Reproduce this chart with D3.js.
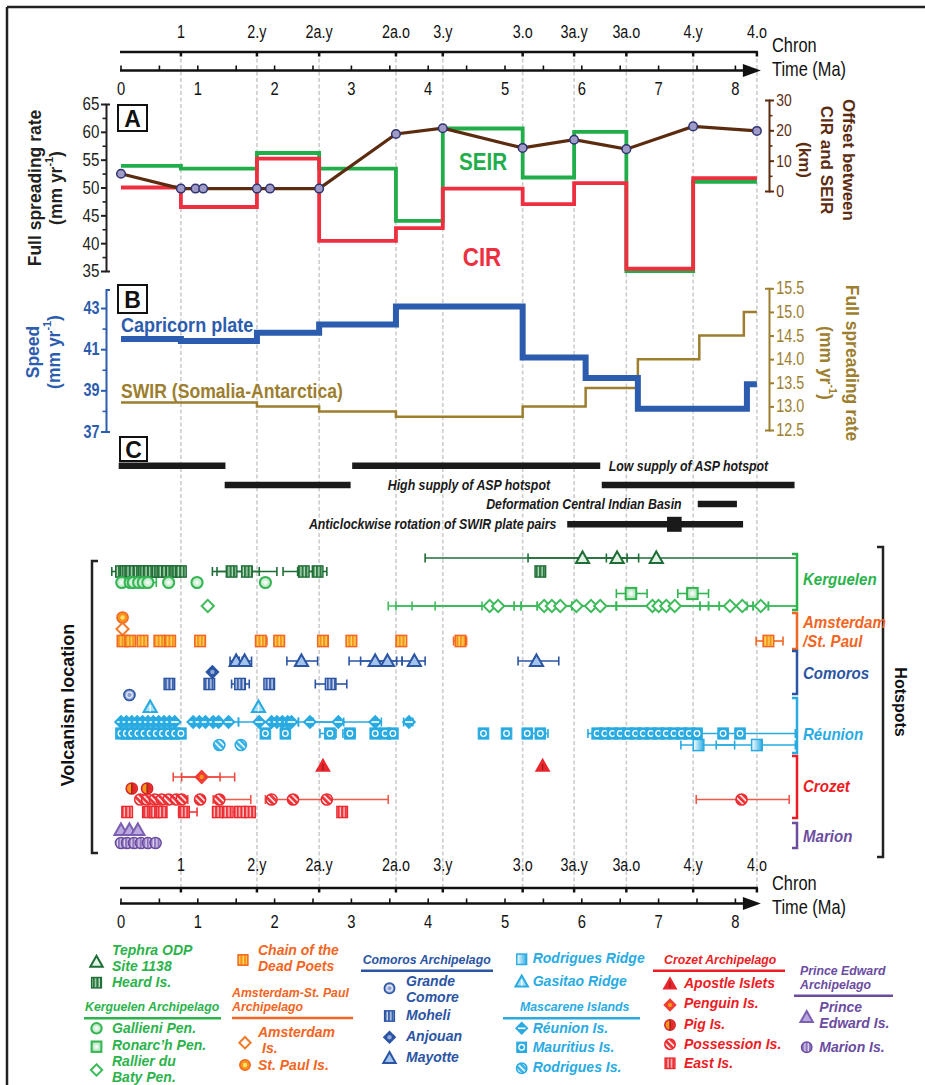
<!DOCTYPE html>
<html><head><meta charset="utf-8">
<script src="https://cdnjs.cloudflare.com/ajax/libs/d3/7.8.5/d3.min.js"></script>
<style>
html,body{margin:0;padding:0;background:#fff;}
svg{display:block;}
text{font-family:"Liberation Sans",Arial,Helvetica,sans-serif;}
</style></head><body>
<svg id="chart" width="925" height="1085"></svg>
<script>
// ================= DATA =================
const N = null;
const chronLabels = ["1","2.y","2a.y","2a.o","3.y","3.o","3a.y","3a.o","4.y","4.o"];
const chronAges   = [0.78,1.77,2.58,3.58,4.19,5.23,5.90,6.58,7.45,8.28];
const timeTicks   = [0,1,2,3,4,5,6,7,8];

// Panel A
const rateBounds = [0,0.78,1.77,2.58,3.58,4.19,5.23,5.90,6.58,7.45,8.28];
const seirRate   = [53.9,53.4,56.2,53.4,44.0,60.6,51.8,60.0,35.0,51.0];
const cirRate    = [50.0,46.5,55.2,40.4,42.7,49.8,47.0,50.8,35.4,51.7];
const offsetAge  = [0,0.78,0.97,1.07,1.77,1.94,2.58,3.58,4.19,5.23,5.90,6.58,7.45,8.28];
const offsetKm   = [5.7,0.8,0.8,0.8,0.8,0.8,0.8,18.8,20.7,14.2,16.9,13.8,21.3,19.8];
const rateTicks  = [35,40,45,50,55,60,65];
const offsetTicks= [0,10,20,30];

// Panel B
const capBounds  = [0,0.78,1.77,2.58,3.58,5.23,6.05,6.73,8.15,8.28];
const capSpeed   = [41.5,41.4,41.8,42.2,43.08,40.6,39.6,38.1,39.3];
const swirBounds = [0,1.77,2.58,3.58,5.23,6.05,6.73,7.53,8.11,8.28];
const swirRate   = [13.08,13.0,12.89,12.78,13.0,13.39,14.0,14.5,15.0];
const speedTicks = [37,39,41,43];
const swirTicks  = [12.5,13.0,13.5,14.0,14.5,15.0,15.5];

// Panel C
const eventStart = [-0.03,3.01,1.35,6.26,7.51,5.81];
const eventEnd   = [1.36,6.24,2.99,8.77,8.02,8.10];
const eventRow   = [0,0,1,1,2,3];
const eventTexts = ["Low supply of ASP hotspot","High supply of ASP hotspot","Deformation Central Indian Basin","Anticlockwise rotation of SWIR plate pairs"];
const eventTextAt = [6.35,4.53,7.30,5.67];
const rotationPeak = [7.11,7.30];

// Hotspot ages (Ma) and error ranges
const tephraAge=[6.01,6.46,6.97];
const tephraErr=[[3.96,8.80],[5.30,6.59],[6.32,6.74]];
const heardAge=[0.00,0.06,0.12,0.18,0.24,0.30,0.36,0.42,0.48,0.54,0.60,0.66,0.72,0.78,1.44,1.64,2.38,2.56,5.46];
const heardErr=[[-0.12,0.10],N,N,N,N,N,N,N,N,N,N,N,N,N,[1.19,2.03],[1.25,1.80],[2.11,2.60],[2.30,2.68],N];
const gallieniAge=[0.01,0.12,0.16,0.23,0.29,0.35,0.62,0.99,1.88];
const gallieniErr=[N,N,N,N,N,[0.30,0.46],N,N,N];
const ronarchAge=[6.64,7.44];
const ronarchErr=[[6.45,6.85],[7.25,7.65]];
const rallierAge=[1.13,4.80,4.91,5.51,5.61,5.72,5.93,6.12,6.24,6.92,7.00,7.10,7.21,7.93,8.09,8.33];
const rallierErr=[N,[3.48,5.12],[3.58,5.21],[3.79,5.87],[4.09,6.45],[4.70,7.09],[5.42,7.54],[5.12,7.65],[5.21,7.79],[6.45,8.15],[5.87,8.23],[6.45,8.43],[5.42,8.80],[7.54,8.23],[7.65,8.43],[7.79,8.80]];
const stPaulAge=[0.02];
const amsterdamAge=[0.02];
const chainAge=[0.02,0.12,0.28,0.50,0.64,1.03,1.82,2.06,2.63,3.00,3.65,4.42,8.43];
const chainErr=[N,N,N,N,N,N,[1.77,1.90],N,N,N,N,[4.33,4.50],[8.27,8.62]];
const mayotteAge=[1.50,1.61,2.35,3.31,3.47,3.82,5.41];
const mayotteErr=[[1.42,1.58],[1.54,1.70],[2.16,2.56],[2.97,3.59],[3.12,3.66],[3.66,3.96],[5.17,5.70]];
const anjouanAge=[1.19];
const moheliAge=[0.63,1.15,1.55,1.93,2.73];
const moheliErr=[N,N,[1.44,1.67],N,[2.53,2.94]];
const grandeAge=[0.11];
const gasitaoAge=[0.38,1.79];
const reunionAge=[0.00,0.07,0.14,0.21,0.28,0.35,0.42,0.49,0.56,0.63,0.70,0.94,1.02,1.10,1.20,1.27,1.40,1.80,1.96,2.03,2.10,2.17,2.22,2.46,2.83,3.31,3.75];
const reunionErr=[N,N,N,N,N,N,N,N,N,N,N,N,N,N,N,N,[1.30,1.53],[1.53,1.96],N,N,N,N,[2.10,2.31],[2.31,2.90],[2.50,3.39],N,[3.68,3.80]];
const mauritiusAge=[0.00,0.07,0.14,0.22,0.30,0.38,0.46,0.54,0.62,0.70,0.78,1.88,2.14,2.72,2.98,3.31,3.44,3.54,4.72,5.02,5.29,5.46,6.20,6.30,6.40,6.50,6.60,6.70,6.80,6.90,7.00,7.10,7.20,7.30,7.40,7.50,7.84,8.06];
const mauritiusErr=[N,N,N,N,N,N,N,N,N,N,N,N,N,[2.59,2.80],[2.89,3.05],N,N,N,N,N,N,[5.30,5.56],[6.08,6.30],N,N,N,N,N,N,N,N,N,N,N,N,N,N,[7.50,8.78]];
const rodRidgeAge=[7.52,8.28];
const rodRidgeErr=[[7.29,7.99],[7.75,8.78]];
const rodriguesAge=[1.28,1.56];
const apostleAge=[2.63,5.49];
const penguinAge=[1.05,1.05];
const penguinErr=[[0.68,1.48],[0.79,1.29]];
const pigAge=[0.14,0.34];
const possessionAge=[0.25,0.34,0.44,0.53,0.62,0.72,0.79,1.03,1.28,1.96,2.24,2.68,8.08];
const possessionErr=[N,N,N,N,N,N,[0.70,0.87],N,[1.20,1.69],N,N,[1.88,3.48],[7.49,8.70]];
const eastAge=[0.08,0.35,0.44,0.53,0.82,1.26,1.39,1.55,1.68,2.88];
const eastErr=[N,N,N,N,[0.75,0.99],N,[1.30,1.48],N,N,N];
const princeEdwardAge=[0.00,0.11,0.22];
const marionAge=[0.00,0.08,0.17,0.26,0.35,0.45];

const groupNames=[["Kerguelen"],["Amsterdam","/St. Paul"],["Comoros"],["Réunion"],["Crozet"],["Marion"]];

// ================= SETUP =================
const svg = d3.select("#chart");
const defs = svg.append("defs");
const x = d3.scaleLinear().domain([0,8]).range([121,735.4]);
const SX = 0.82;

function ntext(parent,tx,ty,str,size,o={}){
  const sx = (o.sx===undefined)?SX:o.sx;
  return parent.append("text").attr("transform",`translate(${tx},${ty}) scale(${sx},1)`)
    .attr("text-anchor",o.anchor||"start").attr("dominant-baseline",o.base||"auto")
    .style("font-size",size+"px").style("font-weight",o.weight||"normal").style("font-style",o.style||"normal")
    .attr("fill",o.fill||"#111").text(str);
}

const C = {green:"#2bb34b", dgreen:"#1f6d36", lgreen:"#3dbb5b", orange:"#f26522", blue:"#2b55a3",
  lblue:"#29abe2", red:"#ed1c24", purple:"#6b4c9f", seir:"#22ad4b", cir:"#ee2f3f", brown:"#5b2c10",
  cap:"#2c5cad", swir:"#9c7e2e", grid:"#cdcdcd"};

function vStripe(id,base,light){
  const p=defs.append("pattern").attr("id",id).attr("patternUnits","userSpaceOnUse").attr("width",3.6).attr("height",12);
  p.append("rect").attr("width",3.6).attr("height",12).attr("fill",base);
  p.append("rect").attr("x",1.4).attr("width",1.2).attr("height",12).attr("fill",light);
}
vStripe("vs-heard","#2a7a3e","#cfe9d3");
vStripe("vs-chain","#f7941d","#fde36a");
vStripe("vs-moheli","#3b62ad","#e2e8f6");
vStripe("vs-east","#ee3438","#fde1e1");
vStripe("vs-marion","#8c72bd","#ece6f6");
function hatch(id,base,light){
  const p=defs.append("pattern").attr("id",id).attr("patternUnits","userSpaceOnUse").attr("width",4.4).attr("height",4.4).attr("patternTransform","rotate(-45)");
  p.append("rect").attr("width",4.4).attr("height",4.4).attr("fill",base);
  p.append("rect").attr("width",1.7).attr("height",4.4).attr("fill",light);
}
hatch("h-pos","#ee3438","#fde6e6");
hatch("h-rod","#3cb4e6","#e6f6fd");
const rg=defs.append("radialGradient").attr("id","rg-green");
rg.append("stop").attr("offset","0%").attr("stop-color","#ffffff");
rg.append("stop").attr("offset","100%").attr("stop-color","#a9dfb4");
const lg=defs.append("linearGradient").attr("id","lg-ridge");
lg.append("stop").attr("offset","0%").attr("stop-color","#ffffff");
lg.append("stop").attr("offset","100%").attr("stop-color","#29abe2");

const M = {
 tephra:{shape:"tri",fill:"#e2f2e4",stroke:C.dgreen,sw:2},
 heard:{shape:"sq",fill:"url(#vs-heard)",stroke:C.dgreen,sw:1.4},
 gallieni:{shape:"circ",fill:"url(#rg-green)",stroke:"#33b552",sw:2},
 ronarch:{shape:"sq",fill:"url(#rg-green)",stroke:"#33b552",sw:2},
 rallier:{shape:"dia",fill:"#fff",stroke:C.lgreen,sw:2},
 stpaul:{shape:"circ",fill:"#f7941d",stroke:C.orange,sw:1.5,dot:"#fde36a"},
 amsterdam:{shape:"dia",fill:"#fff",stroke:"#f47a2a",sw:2},
 chain:{shape:"sq",fill:"url(#vs-chain)",stroke:C.orange,sw:1.5},
 grande:{shape:"circ",fill:"#8d9fd3",stroke:C.blue,sw:1.5,ring:"#e4e9f7"},
 moheli:{shape:"sq",fill:"url(#vs-moheli)",stroke:C.blue,sw:1.4},
 anjouan:{shape:"dia",fill:C.blue,stroke:C.blue,sw:1.5,dot:"#8ea6d9"},
 mayotte:{shape:"tri",fill:"#a3c4ec",stroke:C.blue,sw:2},
 rodRidge:{shape:"sq",fill:"url(#lg-ridge)",stroke:C.lblue,sw:1.5},
 gasitao:{shape:"tri",fill:"#a8def6",stroke:C.lblue,sw:2,vline:"#ffffff"},
 reunion:{shape:"dia",fill:C.lblue,stroke:C.lblue,sw:1.5,band:"#ffffff"},
 mauritius:{shape:"sq",fill:C.lblue,stroke:C.lblue,sw:1,ring:"#ffffff"},
 rodrigues:{shape:"circ",fill:"url(#h-rod)",stroke:C.lblue,sw:1.5},
 apostle:{shape:"tri",fill:"#e8262d",stroke:"#e8262d",sw:1.5,vline:"#9e1a1f"},
 penguin:{shape:"dia",fill:"#ef3e36",stroke:"#ef3e36",sw:1.5,dot:"#f7941d"},
 pig:{shape:"half",fill:"#f7941d",fill2:"#e8262d",stroke:"#d2232a",sw:1.5},
 possession:{shape:"circ",fill:"url(#h-pos)",stroke:"#ed2a30",sw:1.5},
 east:{shape:"sq",fill:"url(#vs-east)",stroke:"#ed2a30",sw:1.4},
 princeEdward:{shape:"tri",fill:"#b9a9de",stroke:"#7b5fb0",sw:2},
 marion:{shape:"circ",fill:"url(#vs-marion)",stroke:"#6b4c9f",sw:1.5}
};

function marker(g,key,cx,cy,s=5.6){
  const st=M[key]; let el;
  if(st.shape==="tri") el=g.append("path").attr("d",`M${cx},${cy-s-1}L${cx+s+1},${cy+s-0.5}L${cx-s-1},${cy+s-0.5}Z`);
  else if(st.shape==="dia") el=g.append("path").attr("d",`M${cx},${cy-s-0.5}L${cx+s+0.5},${cy}L${cx},${cy+s+0.5}L${cx-s-0.5},${cy}Z`);
  else if(st.shape==="sq") el=g.append("rect").attr("x",cx-s+0.3).attr("y",cy-s).attr("width",2*s-0.6).attr("height",2*s);
  else el=g.append("circle").attr("cx",cx).attr("cy",cy).attr("r",s);
  el.attr("fill",st.fill).attr("stroke",st.stroke).attr("stroke-width",st.sw);
  if(st.shape==="half"){
    g.append("path").attr("d",`M${cx},${cy-s+0.7}A${s-0.7},${s-0.7} 0 0 1 ${cx},${cy+s-0.7}Z`).attr("fill",st.fill2);
    g.append("line").attr("x1",cx).attr("x2",cx).attr("y1",cy-s).attr("y2",cy+s).attr("stroke","#8c1d1d").attr("stroke-width",1.2);
  }
  if(st.dot) g.append("circle").attr("cx",cx).attr("cy",cy).attr("r",2.2).attr("fill",st.dot);
  if(st.ring) g.append("circle").attr("cx",cx).attr("cy",cy).attr("r",2.8).attr("fill","none").attr("stroke",st.ring).attr("stroke-width",1.3);
  if(st.band) g.append("line").attr("x1",cx-3.8).attr("x2",cx+3.8).attr("y1",cy).attr("y2",cy).attr("stroke",st.band).attr("stroke-width",1.6);
  if(st.vline) g.append("line").attr("x1",cx).attr("x2",cx).attr("y1",cy-2).attr("y2",cy+s-1.2).attr("stroke",st.vline).attr("stroke-width",1.3);
}

// ================= FRAME & GRID =================
svg.append("line").attr("x1",7).attr("x2",925).attr("y1",7).attr("y2",7).attr("stroke","#222").attr("stroke-width",2.5);
svg.append("line").attr("x1",7).attr("x2",7).attr("y1",7).attr("y2",1085).attr("stroke","#222").attr("stroke-width",2.5);
svg.append("g").selectAll("line").data(chronAges).join("line")
  .attr("x1",d=>x(d)).attr("x2",d=>x(d)).attr("y1",52).attr("y2",888)
  .attr("stroke",C.grid).attr("stroke-width",1.6).attr("stroke-dasharray","4,2.5");

// ================= TIME AXES =================
function timeAxes(yLab,yChron,yTime,yTLab,yChronTxt,yTimeTxt){
  const g=svg.append("g");
  const xEnd=x(chronAges[chronAges.length-1]);
  g.append("line").attr("x1",x(0)-1).attr("x2",xEnd+1).attr("y1",yChron).attr("y2",yChron).attr("stroke","#111").attr("stroke-width",2.5);
  g.selectAll(".ct").data(chronAges).join("line").attr("x1",d=>x(d)).attr("x2",d=>x(d)).attr("y1",yChron).attr("y2",yChron+4.5).attr("stroke","#111").attr("stroke-width",2.5);
  chronLabels.forEach((d,i)=>ntext(g,x(chronAges[i]),yLab,d,17.5,{anchor:"middle"}));
  g.append("line").attr("x1",x(0)-1).attr("x2",xEnd-10).attr("y1",yTime).attr("y2",yTime).attr("stroke","#111").attr("stroke-width",2.5);
  g.append("path").attr("d",`M${xEnd-14},${yTime-6.5}L${xEnd+4},${yTime}L${xEnd-14},${yTime+6.5}Z`).attr("fill","#111");
  g.selectAll(".tt").data(d3.range(0,8.01,0.5)).join("line").attr("x1",d=>x(d)).attr("x2",d=>x(d)).attr("y1",yTime-5).attr("y2",yTime).attr("stroke","#111").attr("stroke-width",1.6);
  timeTicks.forEach(d=>ntext(g,x(d),yTLab,String(d),18,{anchor:"middle"}));
  ntext(g,772,yChronTxt,"Chron",20);
  ntext(g,772,yTimeTxt,"Time (Ma)",20);
}
timeAxes(38,52,70.5,95,52,76);
timeAxes(871,888,903.5,928,889.5,913.5);

// ================= helpers =================
function styleAxis(g,color,size,weight){
  g.select(".domain").attr("stroke",color).attr("stroke-width",2);
  g.selectAll(".tick line").attr("stroke",color).attr("stroke-width",2);
  g.selectAll(".tick text").attr("fill",color).attr("transform",`scale(${SX},1)`)
    .style("font-size",size+"px").style("font-weight",weight).style("font-family","'Liberation Sans',Arial,sans-serif");
}
function minor(g,axisFn,vals,color){
  const m=g.append("g").call(axisFn.tickValues(vals).tickSize(3.5).tickFormat(""));
  m.select(".domain").remove();
  m.selectAll(".tick line").attr("stroke",color).attr("stroke-width",1.6);
}
function rotTitle(cx,cy,angle,lines,color,size,lh){
  const t=svg.append("text").attr("transform",`translate(${cx},${cy}) rotate(${angle})`)
    .attr("text-anchor","middle").attr("dominant-baseline","central").attr("fill",color)
    .style("font-size",size+"px").style("font-weight","bold");
  lines.forEach((ln,i)=>{
    const segs = typeof ln==="string"?[{t:ln}]:ln;
    segs.forEach((s,j)=>{
      const sp=t.append("tspan").text(s.t);
      if(j===0) sp.attr("x",0).attr("y",i*lh);
      if(s.sup) sp.attr("dy",-size*0.38).style("font-size",(size*0.62)+"px");
      if(j>0 && segs[j-1].sup) sp.attr("dy",size*0.38);
    });
  });
}
function panelBox(x0,y0,w,h,letter){
  svg.append("rect").attr("x",x0).attr("y",y0).attr("width",w).attr("height",h).attr("fill","#fff").attr("stroke","#111").attr("stroke-width",2);
  svg.append("text").attr("x",x0+w/2).attr("y",y0+h/2+1).attr("text-anchor","middle").attr("dominant-baseline","central")
    .style("font-size","23px").style("font-weight","bold").attr("fill","#111").text(letter);
}
const stepPts=(bounds,vals)=>bounds.map((b,i)=>[b,vals[Math.min(i,vals.length-1)]]);
const mmyr=[{t:"(mm yr"},{t:"-1",sup:true},{t:")"}];

// ================= PANEL A =================
const yA=d3.scaleLinear().domain([35,65]).range([271,104]);
const yOff=d3.scaleLinear().domain([0,30]).range([191,100]);
const gAL=svg.append("g").attr("transform","translate(106,0)");
gAL.call(d3.axisLeft(yA).tickValues(rateTicks).tickSize(5).tickSizeOuter(-4).tickPadding(3).tickFormat(d3.format("d")));
styleAxis(gAL,"#231f20",18.5,"normal");
minor(gAL,d3.axisLeft(yA),[37.5,42.5,47.5,52.5,57.5,62.5],"#231f20");
const gAR=svg.append("g").attr("transform","translate(769,0)");
gAR.call(d3.axisRight(yOff).tickValues(offsetTicks).tickSize(5).tickSizeOuter(-4).tickPadding(4).tickFormat(d3.format("d")));
styleAxis(gAR,C.brown,17,"normal");
minor(gAR,d3.axisRight(yOff),[5,15,25],C.brown);

const stepA=d3.line().x(d=>x(d[0])).y(d=>yA(d[1])).curve(d3.curveStepAfter);
svg.append("path").attr("d",stepA(stepPts(rateBounds,seirRate))).attr("fill","none").attr("stroke",C.seir).attr("stroke-width",3.8);
svg.append("path").attr("d",stepA(stepPts(rateBounds,cirRate))).attr("fill","none").attr("stroke",C.cir).attr("stroke-width",3.8);
const offPts=offsetAge.map((a,i)=>[a,offsetKm[i]]);
svg.append("path").attr("d",d3.line().x(d=>x(d[0])).y(d=>yOff(d[1]))(offPts)).attr("fill","none").attr("stroke",C.brown).attr("stroke-width",3.2);
svg.append("g").selectAll("circle").data(offPts).join("circle").attr("cx",d=>x(d[0])).attr("cy",d=>yOff(d[1])).attr("r",4.3)
  .attr("fill","#a09bc6").attr("stroke","#2f3470").attr("stroke-width",1.5);
ntext(svg,483,162,"SEIR",24,{anchor:"middle",base:"central",weight:"bold",fill:C.seir,sx:0.86});
ntext(svg,482,257,"CIR",26,{anchor:"middle",base:"central",weight:"bold",fill:C.cir,sx:0.86});
panelBox(118,105,29,26,"A");
rotTitle(35,188,-90,["Full spreading rate",mmyr],"#231f20",17.5,20.6);
rotTitle(849,160,90,["Offset between","CIR and SEIR","(km)"],C.brown,17,22);

// ================= PANEL B =================
const yS=d3.scaleLinear().domain([37,43.9]).range([431.5,289.5]);
const yW=d3.scaleLinear().domain([12.5,15.5]).range([430,288.3]);
const gBL=svg.append("g").attr("transform","translate(106,0)");
gBL.call(d3.axisLeft(yS).tickValues(speedTicks).tickSize(5).tickSizeOuter(-4).tickPadding(3).tickFormat(d3.format("d")));
styleAxis(gBL,C.cap,17.5,"bold");
minor(gBL,d3.axisLeft(yS),[38,40,42],C.cap);
const gBR=svg.append("g").attr("transform","translate(769,0)");
gBR.call(d3.axisRight(yW).tickValues(swirTicks).tickSize(5).tickSizeOuter(-4).tickPadding(4).tickFormat(d3.format(".1f")));
styleAxis(gBR,C.swir,17.5,"normal");
svg.append("path").attr("d",d3.line().x(d=>x(d[0])).y(d=>yW(d[1])).curve(d3.curveStepAfter)(stepPts(swirBounds,swirRate)))
  .attr("fill","none").attr("stroke",C.swir).attr("stroke-width",2.5);
svg.append("path").attr("d",d3.line().x(d=>x(d[0])).y(d=>yS(d[1])).curve(d3.curveStepAfter)(stepPts(capBounds,capSpeed)))
  .attr("fill","none").attr("stroke",C.cap).attr("stroke-width",6);
ntext(svg,121,332,"Capricorn plate",20.5,{weight:"bold",fill:C.cap,sx:0.88});
ntext(svg,121,398,"SWIR (Somalia-Antarctica)",20,{weight:"bold",fill:C.swir,sx:0.88});
panelBox(118,285,29,28,"B");
rotTitle(33,352,-90,["Speed",mmyr],C.cap,17.5,20.6);
rotTitle(852,363,90,["Full spreading rate",mmyr],C.swir,17.5,26);

// ================= PANEL C =================
panelBox(120,437,27,24,"C");
const rowY=[465.7,485,504,524.3];
svg.append("g").selectAll("line").data(eventStart).join("line")
  .attr("x1",(d,i)=>x(d)).attr("x2",(d,i)=>x(eventEnd[i])).attr("y1",(d,i)=>rowY[eventRow[i]]).attr("y2",(d,i)=>rowY[eventRow[i]])
  .attr("stroke","#1a1a1a").attr("stroke-width",6.5);
svg.append("rect").attr("x",x(rotationPeak[0])).attr("y",rowY[3]-7.5).attr("width",x(rotationPeak[1])-x(rotationPeak[0])).attr("height",15).attr("fill","#1a1a1a");
const evAnchor=["start","middle","end","end"];
eventTexts.forEach((t,i)=>ntext(svg,x(eventTextAt[i]),rowY[i],t,14.2,{anchor:evAnchor[i],base:"central",weight:"bold",style:"italic",fill:"#1a1a1a",sx:0.87}));

// ================= HOTSPOTS =================
const rows=[
 {key:"tephra",ages:tephraAge,errs:tephraErr,y:558,ec:C.dgreen},
 {key:"heard",ages:heardAge,errs:heardErr,y:571.5,ec:C.dgreen},
 {key:"gallieni",ages:gallieniAge,errs:gallieniErr,y:582.5,ec:"#33b552"},
 {key:"ronarch",ages:ronarchAge,errs:ronarchErr,y:593.5,ec:"#33b552"},
 {key:"rallier",ages:rallierAge,errs:rallierErr,y:606,ec:C.lgreen},
 {key:"stpaul",ages:stPaulAge,y:617.5},
 {key:"amsterdam",ages:amsterdamAge,y:629},
 {key:"chain",ages:chainAge,errs:chainErr,y:641,ec:C.orange},
 {key:"mayotte",ages:mayotteAge,errs:mayotteErr,y:661,ec:C.blue},
 {key:"anjouan",ages:anjouanAge,y:672},
 {key:"moheli",ages:moheliAge,errs:moheliErr,y:684,ec:C.blue},
 {key:"grande",ages:grandeAge,y:695},
 {key:"gasitao",ages:gasitaoAge,y:707},
 {key:"reunion",ages:reunionAge,errs:reunionErr,y:722,ec:C.lblue},
 {key:"mauritius",ages:mauritiusAge,errs:mauritiusErr,y:733.5,ec:C.lblue},
 {key:"rodRidge",ages:rodRidgeAge,errs:rodRidgeErr,y:745,ec:C.lblue},
 {key:"rodrigues",ages:rodriguesAge,y:745},
 {key:"apostle",ages:apostleAge,y:766},
 {key:"penguin",ages:penguinAge,errs:penguinErr,y:777,ec:"#ef4a3f"},
 {key:"pig",ages:pigAge,y:788.5},
 {key:"possession",ages:possessionAge,errs:possessionErr,y:799.5,ec:"#f0584a"},
 {key:"east",ages:eastAge,errs:eastErr,y:812,ec:"#ee3438"},
 {key:"princeEdward",ages:princeEdwardAge,y:830},
 {key:"marion",ages:marionAge,y:843}
];
const gH=svg.append("g");
rows.forEach(r=>{
  if(!r.errs) return;
  r.errs.forEach(e=>{
    if(!e) return;
    gH.append("line").attr("x1",x(e[0])).attr("x2",x(e[1])).attr("y1",r.y).attr("y2",r.y).attr("stroke",r.ec).attr("stroke-width",1.6);
    e.forEach(v=>gH.append("line").attr("x1",x(v)).attr("x2",x(v)).attr("y1",r.y-4.5).attr("y2",r.y+4.5).attr("stroke",r.ec).attr("stroke-width",1.6));
  });
});
rows.forEach(r=>r.ages.forEach(a=>marker(gH,r.key,x(a),r.y)));

svg.append("path").attr("d","M98,561H92V853H98").attr("fill","none").attr("stroke","#222").attr("stroke-width",2.5);
svg.append("path").attr("d","M877,547H883V857H877").attr("fill","none").attr("stroke","#222").attr("stroke-width",2.5);
const gTop=[554,613,651,698,756,823], gBot=[610,649,694,753,818,848], gLabY=[579,622.5,673,734,786,836];
const gCol=[C.green,C.orange,C.blue,C.lblue,C.red,C.purple];
groupNames.forEach((nm,i)=>{
  svg.append("path").attr("d",`M792,${gTop[i]}H797V${gBot[i]}H792`).attr("fill","none").attr("stroke",gCol[i]).attr("stroke-width",2.5);
  nm.forEach((t,j)=>ntext(svg,803,gLabY[i]+j*18.6,t,16.2,{base:"central",weight:"bold",style:"italic",fill:gCol[i],sx:0.93}));
});
rotTitle(68,705,-90,["Volcanism location"],"#111",18,20);
rotTitle(901,702,90,["Hotspots"],"#111",16,20);

// ================= LEGEND =================
const legendItems=[
 {key:"tephra",sx:96.5,sy:962,tx:112,lines:["Tephra ODP","Site 1138"],ty:[954.5,970.7],c:C.green},
 {key:"heard",sx:96.5,sy:982.7,tx:112,lines:["Heard Is."],ty:[987.3],c:C.green},
 {key:"gallieni",sx:96.5,sy:1028.3,tx:112,lines:["Gallieni Pen."],ty:[1033],c:C.green},
 {key:"ronarch",sx:96.5,sy:1046.7,tx:112,lines:["Ronarc’h Pen."],ty:[1050],c:C.green},
 {key:"rallier",sx:96.5,sy:1070,tx:112,lines:["Rallier du","Baty Pen."],ty:[1066.2,1082.4],c:C.green},
 {key:"chain",sx:243,sy:960,tx:258,lines:["Chain of the","Dead Poets"],ty:[954.5,970.7],c:C.orange},
 {key:"amsterdam",sx:245,sy:1042.7,tx:258,lines:["Amsterdam","Is."],ty:[1036.8,1053],c:C.orange,ind:[0,4]},
 {key:"stpaul",sx:245,sy:1065,tx:258,lines:["St. Paul Is."],ty:[1070],c:C.orange},
 {key:"grande",sx:389.5,sy:988.3,tx:406,lines:["Grande","Comore"],ty:[985.5,1001.7],c:C.blue},
 {key:"moheli",sx:389.5,sy:1016,tx:406,lines:["Moheli"],ty:[1019.5],c:C.blue},
 {key:"anjouan",sx:389.5,sy:1037.3,tx:406,lines:["Anjouan"],ty:[1040.5],c:C.blue},
 {key:"mayotte",sx:389.5,sy:1058.3,tx:406,lines:["Mayotte"],ty:[1061.5],c:C.blue},
 {key:"rodRidge",sx:521.7,sy:959.3,tx:532.7,lines:["Rodrigues Ridge"],ty:[963],c:C.lblue},
 {key:"gasitao",sx:521.7,sy:981.7,tx:532.7,lines:["Gasitao Ridge"],ty:[985.5],c:C.lblue},
 {key:"reunion",sx:521.7,sy:1028.3,tx:532.7,lines:["Réunion Is."],ty:[1033],c:C.lblue},
 {key:"mauritius",sx:521.7,sy:1047.3,tx:532.7,lines:["Mauritius Is."],ty:[1052],c:C.lblue},
 {key:"rodrigues",sx:521.7,sy:1068.3,tx:532.7,lines:["Rodrigues Is."],ty:[1072],c:C.lblue},
 {key:"apostle",sx:670,sy:984,tx:684,lines:["Apostle Islets"],ty:[987.5],c:C.red},
 {key:"penguin",sx:670,sy:1005,tx:684,lines:["Penguin Is."],ty:[1008],c:C.red},
 {key:"pig",sx:670,sy:1025,tx:684,lines:["Pig Is."],ty:[1028.5],c:C.red},
 {key:"possession",sx:670,sy:1044.3,tx:684,lines:["Possession Is."],ty:[1048.5],c:C.red},
 {key:"east",sx:670,sy:1063.3,tx:684,lines:["East Is."],ty:[1068],c:C.red},
 {key:"princeEdward",sx:806.7,sy:1017.3,tx:819.3,lines:["Prince","Edward Is."],ty:[1012,1028.2],c:C.purple},
 {key:"marion",sx:806.7,sy:1047.3,tx:819.3,lines:["Marion Is."],ty:[1052],c:C.purple}
];
const legendHeads=[
 {lines:["Kerguelen Archipelago"],x:85,ty:[1011],c:C.green,rule:[84,221,1018.3]},
 {lines:["Amsterdam-St. Paul","Archipelago"],x:232,ty:[996.5,1010.7],c:C.orange,rule:[232,353,1018]},
 {lines:["Comoros Archipelago"],x:362.7,ty:[964],c:C.blue,rule:[361,493,970.7]},
 {lines:["Mascarene Islands"],x:520,ty:[1010.5],c:C.lblue,rule:[503,640,1018.3]},
 {lines:["Crozet Archipelago"],x:664,ty:[964],c:C.red,rule:[653,785,970.7]},
 {lines:["Prince Edward","Archipelago"],x:800,ty:[974.5,988.7],c:C.purple,rule:[794,893,995.7]}
];
const gL=svg.append("g");
legendItems.forEach(it=>{
  marker(gL,it.key,it.sx,it.sy,5.2);
  it.lines.forEach((t,j)=>ntext(gL,it.tx+(it.ind?it.ind[j]:0),it.ty[j],t,14,{weight:"bold",style:"italic",fill:it.c,sx:1}));
});
legendHeads.forEach(h=>{
  h.lines.forEach((t,j)=>ntext(gL,h.x,h.ty[j],t,12.3,{weight:"bold",style:"italic",fill:h.c,sx:1}));
  gL.append("line").attr("x1",h.rule[0]).attr("x2",h.rule[1]).attr("y1",h.rule[2]).attr("y2",h.rule[2]).attr("stroke",h.c).attr("stroke-width",2.5);
});
</script></body></html>
